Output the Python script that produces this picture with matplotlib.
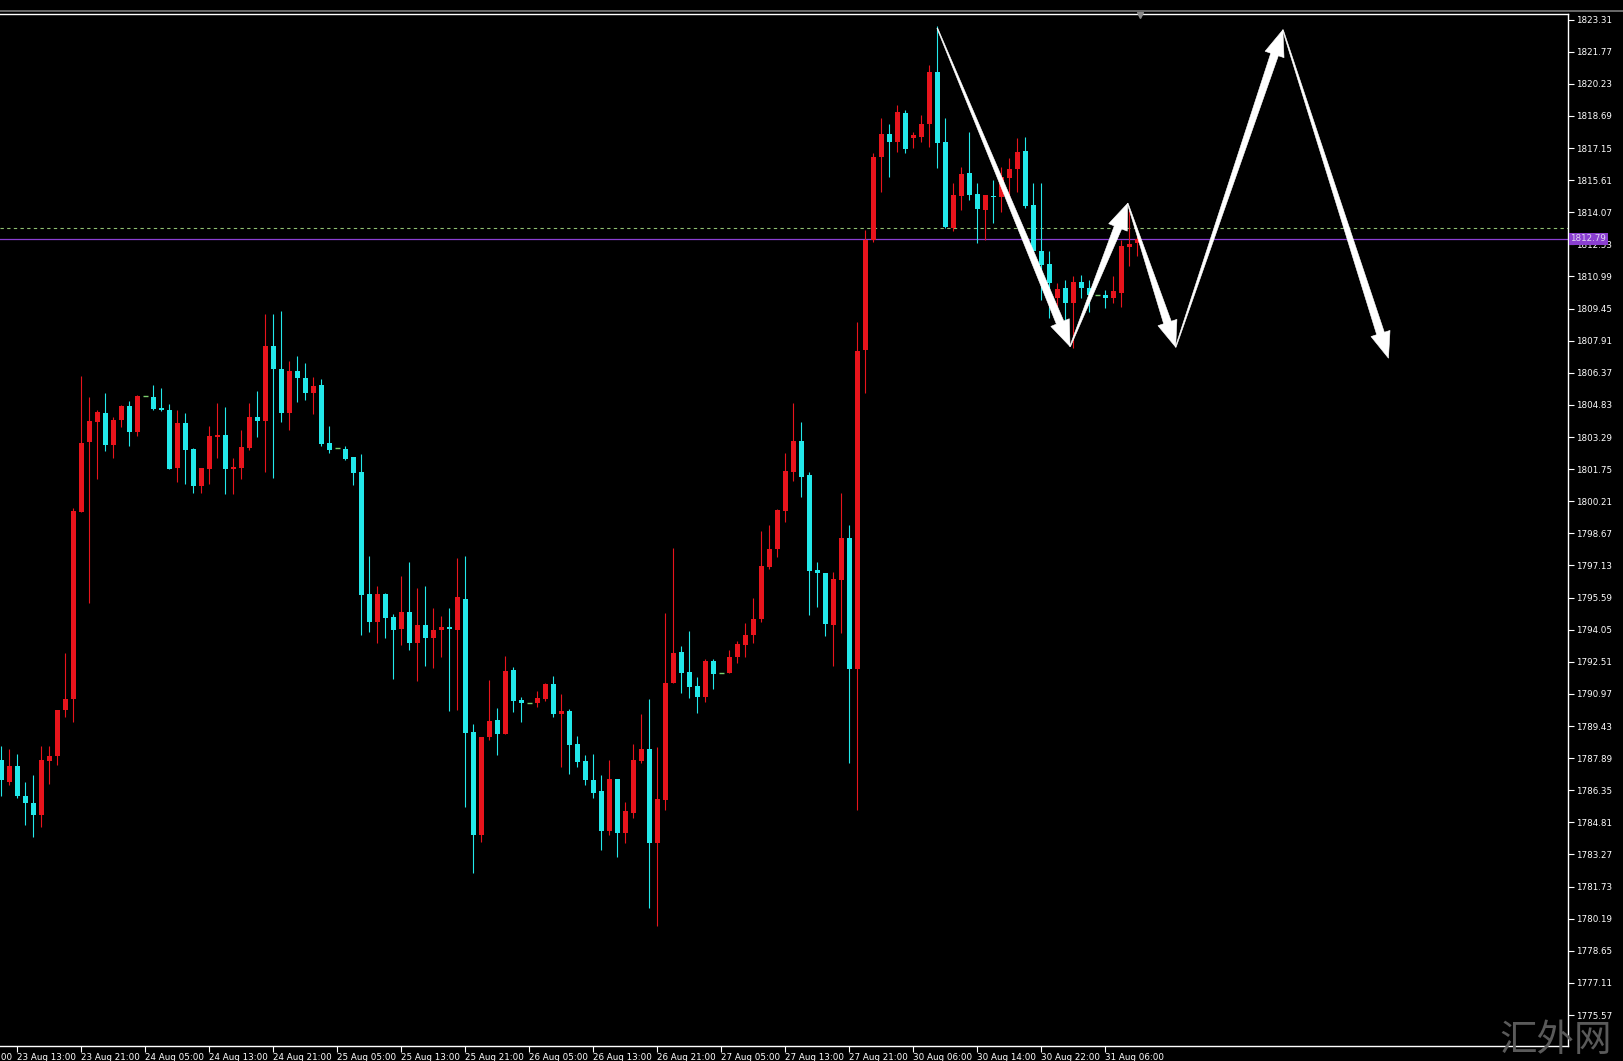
import numpy as np
import matplotlib.pyplot as plt
from matplotlib.patches import Polygon
from matplotlib.lines import Line2D
import matplotlib.transforms as mtransforms

# H1 candles (bar 0 = 23 Aug 11:00)
opens = [1787.82, 1786.75, 1787.49, 1786.09, 1785.75, 1785.14, 1787.77, 1787.98, 1790.18, 1790.71,
         1799.71, 1803.05, 1804.00, 1804.42, 1802.93, 1804.09, 1804.80, 1803.51, 1805.24, 1805.21,
         1804.66, 1804.61, 1801.81, 1803.97, 1802.71, 1800.95, 1801.77, 1803.29, 1803.38, 1801.77,
         1801.80, 1802.76, 1804.25, 1804.04, 1807.64, 1806.56, 1804.42, 1806.44, 1806.13, 1805.38,
         1805.79, 1803.01, 1802.76, 1802.71, 1802.33, 1801.61, 1795.77, 1794.40, 1795.77, 1794.66,
         1794.07, 1794.88, 1793.39, 1794.28, 1793.63, 1794.02, 1794.16, 1794.02, 1795.53, 1789.14,
         1784.22, 1788.89, 1789.72, 1789.07, 1792.12, 1790.68, 1790.52, 1790.52, 1790.71, 1791.45,
         1790.01, 1790.17, 1788.57, 1787.77, 1786.85, 1786.33, 1784.41, 1786.89, 1784.32, 1785.28,
         1787.77, 1788.33, 1783.84, 1785.89, 1791.48, 1792.97, 1792.00, 1791.37, 1790.84, 1792.57,
         1791.96, 1791.99, 1792.73, 1793.32, 1793.80, 1794.55, 1797.08, 1797.91, 1799.72, 1801.60,
         1803.12, 1801.47, 1796.92, 1796.79, 1794.28, 1796.41, 1798.44, 1792.17, 1807.47, 1812.74,
         1816.71, 1817.83, 1817.46, 1818.85, 1817.62, 1817.70, 1818.31, 1820.82, 1817.46, 1813.30,
         1814.87, 1815.94, 1814.95, 1814.18, 1814.87, 1814.79, 1815.70, 1816.13, 1817.01, 1814.42,
         1812.19, 1811.58, 1809.95, 1810.46, 1809.71, 1810.75, 1810.43, 1810.11, 1810.11, 1809.95,
         1810.22, 1812.42, 1812.58]
highs = [1788.48, 1788.31, 1788.07, 1786.75, 1787.08, 1788.48, 1788.48, 1790.21, 1792.94, 1799.87,
         1806.23, 1805.21, 1804.58, 1805.41, 1804.25, 1804.83, 1805.03, 1805.33, 1805.24, 1805.77,
         1805.62, 1804.88, 1804.58, 1804.42, 1802.76, 1801.81, 1803.84, 1804.91, 1804.75, 1802.27,
         1803.62, 1804.93, 1805.50, 1809.21, 1809.21, 1809.32, 1806.95, 1807.18, 1806.83, 1806.18,
         1806.06, 1803.84, 1802.76, 1802.84, 1802.33, 1802.47, 1797.57, 1796.16, 1795.82, 1794.79,
         1796.63, 1797.31, 1796.03, 1796.16, 1795.10, 1794.71, 1795.10, 1797.50, 1797.58, 1789.52,
         1788.92, 1791.64, 1790.28, 1792.79, 1792.28, 1790.84, 1790.52, 1791.13, 1791.51, 1791.83,
         1790.97, 1790.24, 1788.96, 1788.04, 1788.09, 1787.09, 1787.80, 1786.89, 1785.81, 1788.57,
         1790.01, 1790.73, 1788.44, 1794.84, 1797.95, 1793.27, 1794.01, 1791.77, 1792.63, 1792.63,
         1791.96, 1793.08, 1793.53, 1794.39, 1795.56, 1798.80, 1799.08, 1799.85, 1802.51, 1804.91,
         1804.03, 1801.60, 1797.32, 1796.79, 1796.80, 1800.59, 1799.07, 1808.83, 1813.22, 1816.90,
         1818.58, 1818.31, 1819.22, 1818.98, 1817.94, 1818.74, 1821.14, 1823.01, 1818.58, 1815.49,
         1816.26, 1817.94, 1815.49, 1814.90, 1815.62, 1816.26, 1816.66, 1817.62, 1817.67, 1815.49,
         1815.49, 1812.19, 1810.67, 1810.83, 1810.99, 1811.07, 1810.83, 1810.11, 1810.35, 1810.99,
         1812.74, 1814.18, 1813.19]
lows = [1786.09, 1786.58, 1786.00, 1784.68, 1784.10, 1784.60, 1786.66, 1787.57, 1789.88, 1789.63,
        1799.71, 1795.33, 1801.28, 1802.60, 1802.30, 1803.76, 1802.85, 1803.35, 1805.24, 1804.58,
        1804.55, 1801.74, 1801.11, 1801.03, 1800.62, 1800.62, 1801.03, 1802.27, 1800.54, 1800.54,
        1801.30, 1802.67, 1803.27, 1801.61, 1801.34, 1804.01, 1803.61, 1804.98, 1805.07, 1804.38,
        1802.84, 1802.53, 1802.76, 1802.19, 1800.99, 1793.80, 1793.94, 1793.39, 1793.63, 1791.67,
        1793.34, 1793.08, 1791.57, 1792.31, 1792.22, 1792.74, 1790.13, 1790.20, 1785.55, 1782.37,
        1783.89, 1788.76, 1788.04, 1789.07, 1790.12, 1789.64, 1790.52, 1790.33, 1790.63, 1789.85,
        1787.48, 1787.13, 1787.48, 1786.61, 1785.97, 1783.49, 1784.21, 1783.17, 1783.84, 1785.01,
        1787.64, 1780.69, 1779.84, 1785.41, 1791.48, 1791.03, 1790.76, 1790.04, 1790.60, 1791.19,
        1791.96, 1791.96, 1792.47, 1792.76, 1793.40, 1794.44, 1796.95, 1797.56, 1799.23, 1801.20,
        1800.43, 1794.76, 1795.16, 1793.75, 1792.31, 1793.88, 1787.64, 1785.41, 1805.39, 1812.66,
        1815.06, 1815.78, 1816.98, 1816.90, 1817.14, 1817.46, 1817.22, 1816.18, 1813.30, 1813.19,
        1814.18, 1814.66, 1812.62, 1812.74, 1813.54, 1814.10, 1814.82, 1815.06, 1814.26, 1812.10,
        1809.87, 1808.99, 1809.55, 1808.83, 1807.55, 1809.95, 1809.31, 1810.11, 1809.47, 1809.74,
        1809.55, 1811.47, 1811.95]
closes = [1786.83, 1787.49, 1786.09, 1785.72, 1785.14, 1787.79, 1787.98, 1790.21, 1790.71, 1799.76,
          1803.01, 1804.04, 1804.47, 1802.93, 1804.12, 1804.80, 1803.51, 1805.28, 1805.24, 1804.63,
          1804.58, 1801.77, 1803.97, 1802.68, 1800.95, 1801.81, 1803.35, 1803.38, 1801.77, 1801.86,
          1802.81, 1804.25, 1804.04, 1807.64, 1806.53, 1804.42, 1806.44, 1806.10, 1805.38, 1805.72,
          1802.98, 1802.67, 1802.76, 1802.24, 1801.57, 1795.73, 1794.40, 1795.77, 1794.62, 1794.02,
          1794.88, 1793.39, 1794.28, 1793.63, 1794.02, 1794.16, 1794.07, 1795.60, 1789.11, 1784.22,
          1788.92, 1789.68, 1789.07, 1792.07, 1790.65, 1790.52, 1790.52, 1790.76, 1791.45, 1790.01,
          1790.17, 1788.52, 1787.72, 1786.85, 1786.24, 1784.41, 1786.89, 1784.32, 1785.36, 1787.80,
          1788.33, 1783.81, 1785.92, 1791.48, 1792.92, 1791.99, 1791.32, 1790.84, 1792.57, 1791.93,
          1791.96, 1792.76, 1793.37, 1793.80, 1794.55, 1797.11, 1797.91, 1799.79, 1801.68, 1803.12,
          1801.39, 1796.88, 1796.76, 1794.33, 1796.47, 1798.44, 1792.17, 1807.42, 1812.74, 1816.74,
          1817.83, 1817.46, 1818.90, 1817.09, 1817.78, 1818.31, 1820.82, 1817.38, 1813.35, 1814.90,
          1815.91, 1814.90, 1814.23, 1814.90, 1814.79, 1815.78, 1816.13, 1816.98, 1814.39, 1812.19,
          1811.55, 1810.67, 1810.38, 1809.74, 1810.75, 1810.46, 1810.11, 1810.11, 1809.95, 1810.30,
          1812.46, 1812.55, 1812.79]

price_labels = ['1823.31', '1821.77', '1820.23', '1818.69', '1817.15', '1815.61', '1814.07', '1812.53',
                '1810.99', '1809.45', '1807.91', '1806.37', '1804.83', '1803.29', '1801.75', '1800.21',
                '1798.67', '1797.13', '1795.59', '1794.05', '1792.51', '1790.97', '1789.43', '1787.89',
                '1786.35', '1784.81', '1783.27', '1781.73', '1780.19', '1778.65', '1777.11', '1775.57']
time_bars = [-6, 2, 10, 18, 26, 34, 42, 50, 58, 66, 74, 82, 90, 98, 106, 114, 122, 130, 138]
time_labels = ['23 Aug 05:00', '23 Aug 13:00', '23 Aug 21:00', '24 Aug 05:00', '24 Aug 13:00',
               '24 Aug 21:00', '25 Aug 05:00', '25 Aug 13:00', '25 Aug 21:00', '26 Aug 05:00',
               '26 Aug 13:00', '26 Aug 21:00', '27 Aug 05:00', '27 Aug 13:00', '27 Aug 21:00',
               '30 Aug 06:00', '30 Aug 14:00', '30 Aug 22:00', '31 Aug 06:00']
bid = 1812.79
ask_line = 1813.30

# hand-drawn zigzag forecast (bar, price)
zigzag = [(117.0, 1822.90), (133.6, 1807.63), (140.8, 1814.50),
          (146.8, 1807.60), (160.2, 1822.82), (173.4, 1807.07)]

RED = '#e8141c'
CYAN = '#22e8ea'
DOJI = '#7ccf6e'
XLIM = (-0.16, 195.84)

fig = plt.figure(figsize=(16.23, 10.61), dpi=100, facecolor='black')
ax = fig.add_axes([0, 0.01367, 0.96611, 0.97314], facecolor='black')
ax.set_xlim(*XLIM)
ax.set_ylim(1774.06, 1823.58)

x = np.arange(len(opens))
o = np.array(opens)
h = np.array(highs)
l = np.array(lows)
c = np.array(closes)
up = c > o
dn = c < o
dj = c == o

ax.vlines(x[up], l[up], h[up], color=RED, lw=0.8, zorder=2)
ax.vlines(x[dn], l[dn], h[dn], color=CYAN, lw=0.8, zorder=2)
ax.bar(x[up], np.maximum(c[up] - o[up], 0.06), bottom=o[up], width=0.62, color=RED, lw=0, zorder=3)
ax.bar(x[dn], np.maximum(o[dn] - c[dn], 0.06), bottom=c[dn], width=0.62, color=CYAN, lw=0, zorder=3)
ax.hlines(o[dj], x[dj] - 0.31, x[dj] + 0.31, color=DOJI, lw=1.0, zorder=3)

ax.axhline(ask_line, color='#8fbf70', lw=0.8, ls=(0, (3, 3)), zorder=1)
ax.axhline(bid, color='#8a3fd0', lw=0.9, zorder=1)

# axes frame
ax.spines['left'].set_visible(False)
for side in ['top', 'right', 'bottom']:
    ax.spines[side].set_color('white')
    ax.spines[side].set_linewidth(1.0)

ax.yaxis.tick_right()
ax.set_yticks([float(v) for v in price_labels])
ax.set_yticklabels(price_labels)
ax.tick_params(axis='y', colors='white', labelsize=6.3, length=4, width=0.8, pad=1.5)
ax.set_xticks(time_bars[1:])
ax.set_xticklabels(time_labels[1:], ha='left')
ax.tick_params(axis='x', colors='white', labelsize=6.3, length=4, width=0.8, pad=1)
ax.set_xlim(*XLIM)

# first time label sits left of the window, only its tail shows
trx = mtransforms.blended_transform_factory(ax.transData, ax.transAxes)
first = ax.xaxis.get_major_ticks()[0].label1
ax.text(time_bars[0], 0, time_labels[0], transform=trx, ha='left', va='top', color='white',
        fontsize=6.3, clip_on=False,
        transform_rotates_text=False)
ax.texts[-1].set_transform(trx + mtransforms.ScaledTranslation(0, -5 / 72, fig.dpi_scale_trans))


def wedge_arrow(p0, p1, w0=0.4, w1=4.0, head_len=26, head_w=10.0):
    a = ax.transData.transform(p0)
    b = ax.transData.transform(p1)
    d = b - a
    u = d / np.hypot(*d)
    n = np.array([-u[1], u[0]])
    base = b - u * head_len
    pts = [a + n * w0, base + n * w1, base + n * head_w, b,
           base - n * head_w, base - n * w1, a - n * w0]
    pts = ax.transData.inverted().transform(pts)
    ax.add_patch(Polygon(pts, closed=True, fc='white', ec='white', lw=0.4, zorder=5))


for p0, p1 in zip(zigzag[:-1], zigzag[1:]):
    wedge_arrow(p0, p1)

# current price tag
tr = mtransforms.blended_transform_factory(ax.transAxes, ax.transData)
ax.text(1.0015, bid, '%.2f' % bid, transform=tr, ha='left', va='center', color='#e0d8f0',
        fontsize=6.3, zorder=6, clip_on=False,
        bbox=dict(boxstyle='square,pad=0.18', fc='#8a3fd0', ec='none'))

# chart-shift marker and top strip
ax.plot([142.4], [1823.53], marker='v', color='#8a8a8a', ms=5, clip_on=False, zorder=6)
fig.add_artist(Line2D([0, 1], [0.9897, 0.9897], transform=fig.transFigure, color='#6a6a6a', lw=1.4))

fig.text(1556 / 1623, 21 / 1061, '汇外网', ha='center', va='center', fontsize=27,
         color='#5a5a5a', family=['Noto Sans CJK SC', 'DejaVu Sans'], zorder=10)

fig.savefig('out.png', dpi=100, facecolor='black')
